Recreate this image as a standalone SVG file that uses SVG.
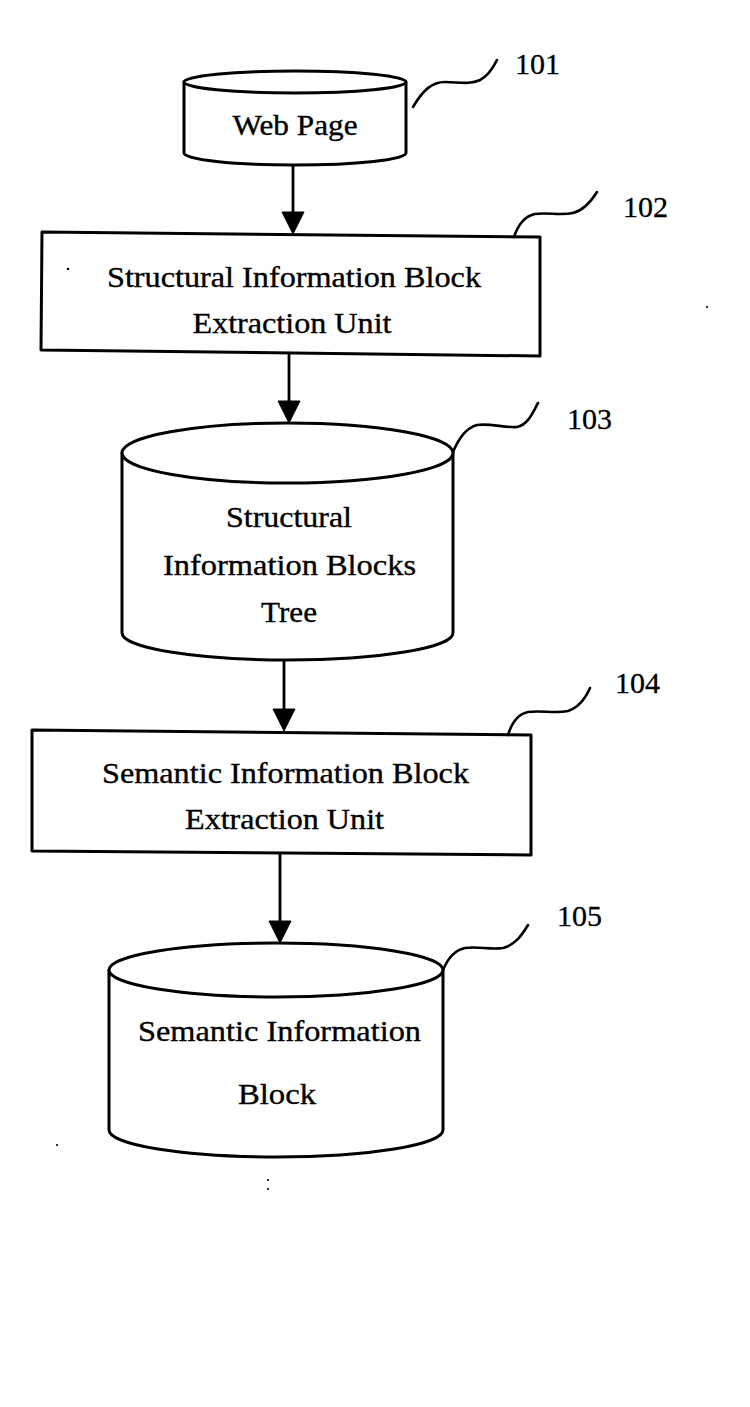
<svg xmlns="http://www.w3.org/2000/svg" width="750" height="1407" viewBox="0 0 750 1407">
<style>
.sh{fill:#fff;stroke:#000;stroke-width:3;stroke-linejoin:round}
.ln{fill:none;stroke:#000;stroke-width:2.8;stroke-linecap:round}
.ld{fill:none;stroke:#000;stroke-width:2.6;stroke-linecap:round}
.hd{fill:#000;stroke:#000;stroke-width:1}
.t{font-family:"Liberation Serif","Times New Roman",serif;font-size:29px;fill:#000;stroke:#000;stroke-width:0.35;text-anchor:middle}
.n{font-family:"Liberation Serif","Times New Roman",serif;font-size:30px;fill:#000;stroke:#000;stroke-width:0.3}
.dot{fill:#000}
</style>
<rect width="750" height="1407" fill="#fff"/>
<g id="connectors">
<line class="ln" x1="293" y1="165" x2="293" y2="214"/>
<polygon class="hd" points="282,212 304,212 293,234"/>
<line class="ln" x1="289" y1="355" x2="289" y2="403"/>
<polygon class="hd" points="278,401 300,401 289,423"/>
<line class="ln" x1="284" y1="660" x2="284" y2="711"/>
<polygon class="hd" points="273,709 295,709 284,731"/>
<line class="ln" x1="280" y1="853" x2="280" y2="923"/>
<polygon class="hd" points="269,921 291,921 280,943"/>
</g>
<g id="node101">
<path class="sh" d="M184,82 L184,153 A111,12 0 0 0 406,153 L406,82 Z"/>
<ellipse class="sh" cx="295" cy="82" rx="111" ry="11"/>
<text class="t" x="295" y="135" textLength="125" lengthAdjust="spacingAndGlyphs">Web Page</text>
<path class="ld" d="M413,107 C423,90 432,82 445,82 C458,82 470,85 480,80 C488,76 493,68 497,60"/>
<text class="n" x="515" y="74">101</text>
</g>
<g id="node102">
<polygon class="sh" points="42,232 540,237 540,356 41,350"/>
<text class="t" x="294" y="287" textLength="374" lengthAdjust="spacingAndGlyphs">Structural Information Block</text>
<text class="t" x="292" y="333" textLength="199" lengthAdjust="spacingAndGlyphs">Extraction Unit</text>
<path class="ld" d="M514,237 C518,225 525,216 535,214 C548,212 560,216 573,213 C585,210 592,200 597,192"/>
<text class="n" x="623" y="217">102</text>
</g>
<g id="node103">
<path class="sh" d="M122,453 L122,633 A165.5,27 0 0 0 453,633 L453,453 Z"/>
<ellipse class="sh" cx="287.5" cy="453" rx="165.5" ry="30"/>
<text class="t" x="289" y="527" textLength="126" lengthAdjust="spacingAndGlyphs">Structural</text>
<text class="t" x="289.5" y="575" textLength="253" lengthAdjust="spacingAndGlyphs">Information Blocks</text>
<text class="t" x="289" y="622" textLength="56" lengthAdjust="spacingAndGlyphs">Tree</text>
<path class="ld" d="M453,452 C458,440 465,428 477,425 C490,423 505,428 517,427 C528,425 533,412 538,403"/>
<text class="n" x="567" y="429">103</text>
</g>
<g id="node104">
<polygon class="sh" points="32,730 531,735 531,855 32,851"/>
<text class="t" x="285.5" y="783" textLength="367" lengthAdjust="spacingAndGlyphs">Semantic Information Block</text>
<text class="t" x="284.5" y="829" textLength="199" lengthAdjust="spacingAndGlyphs">Extraction Unit</text>
<path class="ld" d="M508,735 C512,722 518,714 528,712 C542,710 555,714 568,711 C580,707 586,697 590,688"/>
<text class="n" x="615" y="693">104</text>
</g>
<g id="node105">
<path class="sh" d="M109,970 L109,1130 A167,27 0 0 0 443,1130 L443,970 Z"/>
<ellipse class="sh" cx="276" cy="970" rx="167" ry="27"/>
<text class="t" x="279.5" y="1041" textLength="283" lengthAdjust="spacingAndGlyphs">Semantic Information</text>
<text class="t" x="277" y="1104" textLength="78" lengthAdjust="spacingAndGlyphs">Block</text>
<path class="ld" d="M443,970 C448,958 455,950 465,948 C478,946 490,950 503,948 C515,945 522,935 528,925"/>
<text class="n" x="557" y="926">105</text>
</g>
<g id="specks">
<circle class="dot" cx="68" cy="269" r="1.3"/>
<circle class="dot" cx="707" cy="307" r="1.1"/>
<circle class="dot" cx="57" cy="1145" r="1.1"/>
<circle class="dot" cx="268" cy="1180" r="1.1"/>
<circle class="dot" cx="268" cy="1189" r="1.1"/>
</g>
</svg>
